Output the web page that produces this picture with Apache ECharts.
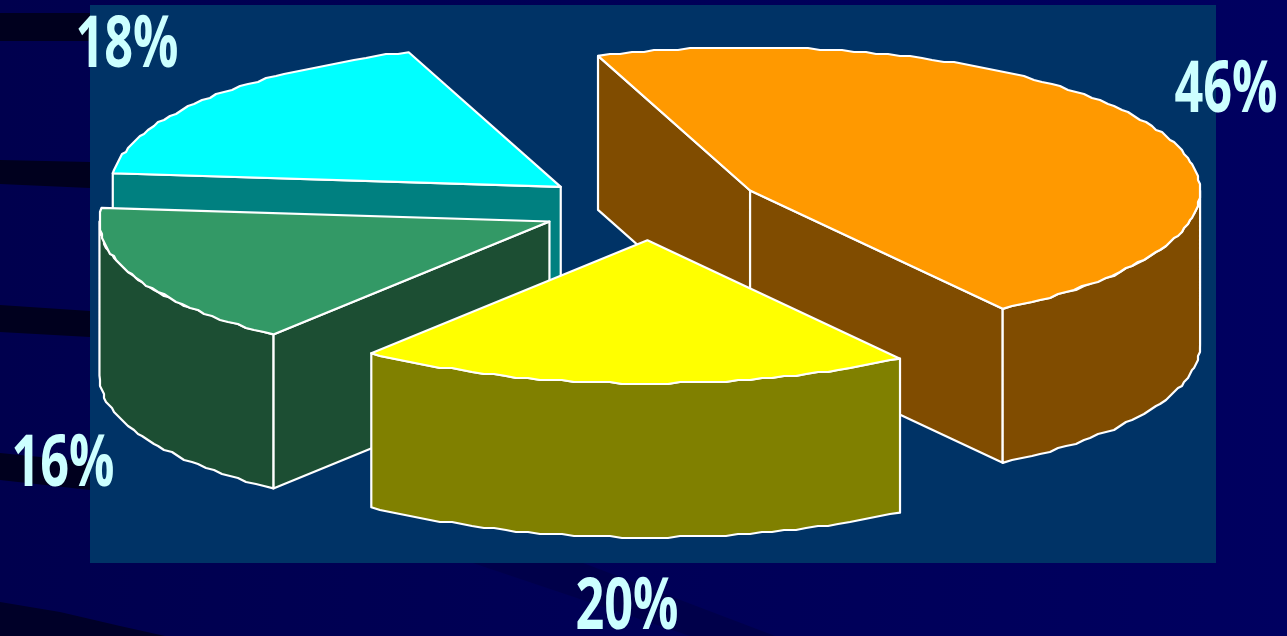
<!DOCTYPE html>
<html>
<head>
<meta charset="utf-8">
<title>Exploded pie</title>
<style>
  html, body { margin: 0; padding: 0; background: #000058; }
  #chart { width: 1287px; height: 636px; }
</style>
<script src="https://cdn.jsdelivr.net/npm/echarts@6/dist/echarts.min.js"></script>
</head>
<body>
<div id="chart"></div>
<script>
// Share of each slice, clockwise from the rear-left edge of the pie
const shares = [46, 20, 16, 18];
const topColors = ['#FF9900', '#FFFF00', '#339966', '#00FFFF'];
const sideColors = ['#804C00', '#808000', '#1C4E33', '#008080'];
// Paint order: rear slices first so nearer slices overlap them
const paintOrder = [2, 3, 1, 0];
// Label anchors: horizontal centre and vertical centre of each percentage
const labelX = [1226, 627, 63, 127];
const labelY = [91, 608, 465, 46];
// Small per-slice adjustment on top of the radial explode offset
const nudgeX = [0, 0, 0.5, -2.5];
const nudgeY = [0, -1.5, 1, 2];

const PIE = { cx: 651, cy: 206.5, rx: 450, ry: 143, depth: 154, explode: 0.247, startAngle: -109.75 };
const RIM_STEP = 1.5; // degrees between rim vertices
const RIM_SNAP = 2;   // coarse vertex grid gives the rim its faceted edge

const total = shares.reduce((a, b) => a + b, 0);
const rad = (d) => d * Math.PI / 180;

function rimPoint(ox, oy, deg) {
  return [ox + PIE.rx * Math.cos(rad(deg)), oy + PIE.ry * Math.sin(rad(deg))];
}

function rimPath(ox, oy, from, to) {
  const n = Math.max(1, Math.round((to - from) / RIM_STEP));
  const pts = [];
  for (let i = 0; i <= n; i++) {
    const p = rimPoint(ox, oy, from + (to - from) * i / n);
    if (i === 0 || i === n) pts.push(p);
    else pts.push([Math.round(p[0] / RIM_SNAP) * RIM_SNAP, Math.round(p[1] / RIM_SNAP) * RIM_SNAP]);
  }
  return pts;
}

function face(points, fill, z2) {
  return {
    type: 'polygon',
    z2,
    shape: { points },
    style: { fill, stroke: '#FFFFFF', lineWidth: 2.2, lineJoin: 'round' }
  };
}

function renderSlice(params, api) {
  const i = params.dataIndex;
  const share = api.value(0);
  let before = 0;
  for (let k = 0; k < i; k++) before += shares[k];
  const a0 = PIE.startAngle + before / total * 360;
  const a1 = a0 + share / total * 360;
  const mid = (a0 + a1) / 2;
  const ox = PIE.cx + PIE.explode * PIE.rx * Math.cos(rad(mid)) + nudgeX[i];
  const oy = PIE.cy + PIE.explode * PIE.ry * Math.sin(rad(mid)) + nudgeY[i];
  const d = PIE.depth;
  const base = paintOrder[i] * 10;
  const children = [];

  // Radial cut faces that turn towards the viewer
  [[a0, Math.cos(rad(a0)) < 0], [a1, Math.cos(rad(a1)) > 0]].forEach(([a, visible]) => {
    if (!visible) return;
    const p = rimPoint(ox, oy, a);
    children.push(face([[ox, oy], p, [p[0], p[1] + d], [ox, oy + d]], sideColors[i], base + 1));
  });

  // Outer wall along the near half of the rim
  const w0 = Math.max(a0, 0);
  const w1 = Math.min(a1, 180);
  if (w1 > w0) {
    const upper = rimPath(ox, oy, w0, w1);
    const lower = upper.map((p) => [p[0], p[1] + d]).reverse();
    children.push(face(upper.concat(lower), sideColors[i], base + 2));
  }

  // Top surface
  children.push(face([[ox, oy]].concat(rimPath(ox, oy, a0, a1)), topColors[i], base + 3));

  // Percentage label
  children.push({
    type: 'text',
    z2: 100,
    x: labelX[i],
    y: labelY[i],
    scaleX: 0.7,
    style: {
      text: share + '%',
      fill: '#CCFFFF',
      font: 'bold 72px "Open Sans"',
      textAlign: 'center',
      textVerticalAlign: 'middle'
    }
  });

  return { type: 'group', children };
}

const chart = echarts.init(document.getElementById('chart'), null, { renderer: 'canvas' });

const streakFill = '#00001E';
chart.setOption({
  animation: false,
  backgroundColor: {
    type: 'linear', x: 0, y: 0, x2: 1, y2: 0,
    colorStops: [{ offset: 0, color: '#00004E' }, { offset: 1, color: '#000060' }]
  },
  graphic: [
    { type: 'polygon', shape: { points: [[0, 13], [90, 13], [90, 41], [0, 41]] }, style: { fill: streakFill } },
    { type: 'polygon', shape: { points: [[0, 160], [90, 162], [90, 188], [0, 184]] }, style: { fill: streakFill } },
    { type: 'polygon', shape: { points: [[0, 305], [90, 311], [90, 337], [0, 332]] }, style: { fill: streakFill } },
    { type: 'polygon', shape: { points: [[0, 453], [90, 462], [90, 490], [0, 480]] }, style: { fill: streakFill } },
    { type: 'polygon', shape: { points: [[0, 602], [60, 612], [120, 626], [165, 636], [0, 636]] }, style: { fill: '#000028' } },
    { type: 'polygon', shape: { points: [[473, 563], [583, 563], [775, 636], [690, 636]] }, style: { fill: '#00004A' } },
    { type: 'rect', shape: { x: 90, y: 5, width: 1126, height: 558 }, style: { fill: '#003366' } }
  ],
  series: [{
    type: 'custom',
    coordinateSystem: 'none',
    renderItem: renderSlice,
    data: shares.map((v) => [v]),
    silent: true
  }]
});
</script>
</body>
</html>
